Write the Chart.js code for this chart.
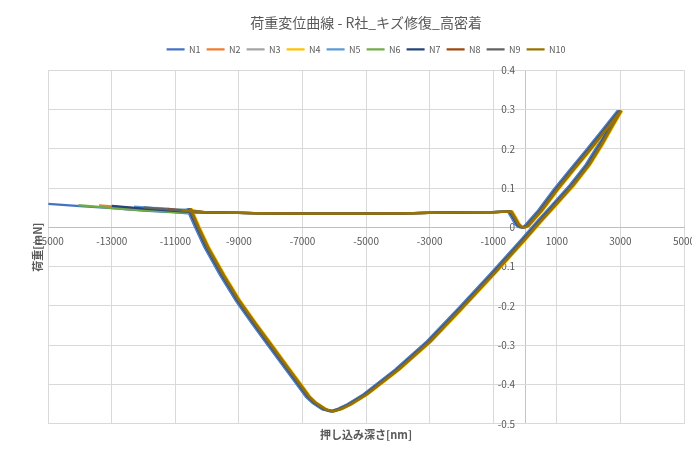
<!DOCTYPE html>
<html>
<head>
<meta charset="utf-8">
<title>荷重変位曲線</title>
<script src="https://cdn.jsdelivr.net/npm/chart.js"></script>
<style>
  body { margin: 0; background: #fff; }
</style>
</head>
<body>
<canvas id="curveChart" width="692" height="454"></canvas>
<script>
// runs and their Excel palette colours
var runNames = ['N1', 'N2', 'N3', 'N4', 'N5', 'N6', 'N7', 'N8', 'N9', 'N10'];
var runColors = ['#4472C4', '#ED7D31', '#A5A5A5', '#FFC000', '#5B9BD5',
                 '#70AD47', '#264478', '#9E480E', '#636363', '#997300'];

// leading tail of each run [nm] / [mN], up to where it meets the approach line
var tailDepth = [
  [-15000, -14000, -13000, -12000, -11000, -10600],
  [-13400, -12000, -11000, -10600],
  [-11600, -11000, -10600],
  [-10900, -10600],
  [-12300, -11000, -10600],
  [-14050, -12500, -11000, -10600],
  [-13000, -12000, -11000, -10600],
  [-11250, -10600],
  [-12000, -11000, -10600],
  [-10800, -10600]
];
var tailLoad = [
  [0.060, 0.054, 0.049, 0.043, 0.038, 0.036],
  [0.056, 0.047, 0.041, 0.039],
  [0.050, 0.045, 0.042],
  [0.045, 0.043],
  [0.053, 0.046, 0.045],
  [0.057, 0.046, 0.039, 0.037],
  [0.055, 0.048, 0.042, 0.040],
  [0.047, 0.042],
  [0.051, 0.044, 0.041],
  [0.044, 0.042]
];

// approach, contact dip, loading to 3000 nm, unloading and pull-off
var loopDepth = [
  -10000, -9000, -8000, -7000, -6000, -5000, -4000, -3000, -2000, -1000, -450,
  -330, -220, -130, -30, 80, 250, 500, 1000, 1500, 2000, 2500, 3000,
  2700, 2400, 2000, 1500, 1000, 500, 300, 0, -1000, -2000, -3000, -4000, -5000,
  -5500, -5800, -6050, -6300, -6600, -6800, -7000, -7500, -8000, -8500, -9000, -9500,
  -10000, -10300, -10550
];
var loopLoad = [
  0.038, 0.037, 0.036, 0.035, 0.035, 0.035, 0.036, 0.037, 0.038, 0.039, 0.040,
  0.024, 0.008, 0.001, 0.000, 0.004, 0.020, 0.043, 0.097, 0.147, 0.196, 0.246, 0.297,
  0.255, 0.212, 0.160, 0.108, 0.063, 0.018, 0.000, -0.028, -0.118, -0.205, -0.290, -0.362, -0.425,
  -0.450, -0.462, -0.468, -0.463, -0.447, -0.432, -0.410, -0.355, -0.300, -0.245, -0.188, -0.122,
  -0.050, 0.002, 0.048
];
// sideways offset of each run's loop [nm]
var runShift = [-90, -30, 0, 60, -60, 20, -40, 10, -20, 30];

var FONT = "'Noto Sans CJK JP', 'Noto Sans', sans-serif";
var TXT = '#595959';

var datasets = runNames.map(function (name, i) {
  var pts = [];
  for (var k = 0; k < tailDepth[i].length; k++) {
    pts.push({ x: tailDepth[i][k], y: tailLoad[i][k] });
  }
  for (k = 0; k < loopDepth.length; k++) {
    pts.push({ x: loopDepth[k] + runShift[i], y: loopLoad[k] });
  }
  return {
    label: name,
    data: pts,
    showLine: true,
    borderColor: runColors[i],
    backgroundColor: runColors[i],
    borderWidth: 2.25,
    pointRadius: 0,
    tension: 0,
    order: runNames.length - 1 - i, // later runs drawn on top
    xAxisID: 'x',
    yAxisID: 'y'
  };
});

// leave a little air between the legend and the plot
var legendGap = {
  id: 'legendGap',
  beforeInit: function (chart) {
    var fit = chart.legend.fit;
    chart.legend.fit = function () {
      fit.bind(chart.legend)();
      this.height += 6.5;
    };
  }
};

var ctx = document.getElementById('curveChart').getContext('2d');
var chart = new Chart(ctx, {
  type: 'scatter',
  data: { datasets: datasets },
  plugins: [legendGap],
  options: {
    responsive: false,
    animation: false,
    layout: { padding: { left: 27, right: 8, top: 0, bottom: 9 } },
    plugins: {
      title: {
        display: true,
        fullSize: false,
        text: '荷重変位曲線 - R社_キズ修復_高密着',
        color: TXT,
        font: { family: FONT, size: 14, weight: 'normal' },
        padding: { top: 14, bottom: 8 }
      },
      legend: {
        position: 'top',
        fullSize: false,
        labels: {
          usePointStyle: true,
          pointStyle: 'line',
          pointStyleWidth: 18,
          boxHeight: 9,
          padding: 6,
          color: TXT,
          font: { family: FONT, size: 9 },
          sort: function (a, b) { return a.datasetIndex - b.datasetIndex; }
        }
      },
      tooltip: { enabled: false }
    },
    scales: {
      x: {
        type: 'linear',
        position: { y: 0 },
        min: -15000,
        max: 5000,
        ticks: {
          stepSize: 2000,
          autoSkip: false,
          maxRotation: 0,
          padding: 0,
          color: TXT,
          font: { family: FONT, size: 10 },
          callback: function (v) { return v === 0 ? '' : String(v); }
        },
        // extra unlabelled line at 0 nm serves as the vertical axis
        afterBuildTicks: function (s) {
          s.ticks.push({ value: 0 });
          s.ticks.sort(function (a, b) { return a.value - b.value; });
        },
        grid: {
          tickLength: 8,
          color: function (c) { return c.tick && c.tick.value === 0 ? '#c4c4c4' : '#d9d9d9'; }
        },
        border: { color: '#bfbfbf' },
        afterFit: function (s) { s.paddingLeft = 0; s.paddingRight = 0; }
      },
      y: {
        type: 'linear',
        position: { x: -315 }, // labels sit just left of the 0 nm line
        min: -0.5,
        max: 0.4,
        ticks: {
          stepSize: 0.1,
          color: TXT,
          font: { family: FONT, size: 10 }
        },
        grid: { color: '#d9d9d9', drawTicks: false },
        border: { display: false }
      },
      xt: {
        type: 'linear',
        axis: 'x',
        position: 'bottom',
        min: 0,
        max: 1,
        ticks: { display: false },
        grid: { display: false, drawTicks: false },
        border: { display: false },
        title: {
          display: true,
          text: '押し込み深さ[nm]',
          color: TXT,
          font: { family: FONT, size: 11, weight: 'bold' },
          padding: { top: 4, bottom: 4 }
        }
      },
      yt: {
        type: 'linear',
        axis: 'y',
        position: 'left',
        min: 0,
        max: 1,
        ticks: { display: false },
        grid: { display: false, drawTicks: false },
        border: { display: false },
        title: {
          display: true,
          text: '荷重[mN]',
          color: TXT,
          font: { family: FONT, size: 11, weight: 'bold' },
          padding: { top: 4, bottom: 4 }
        }
      }
    }
  }
});
</script>
</body>
</html>
